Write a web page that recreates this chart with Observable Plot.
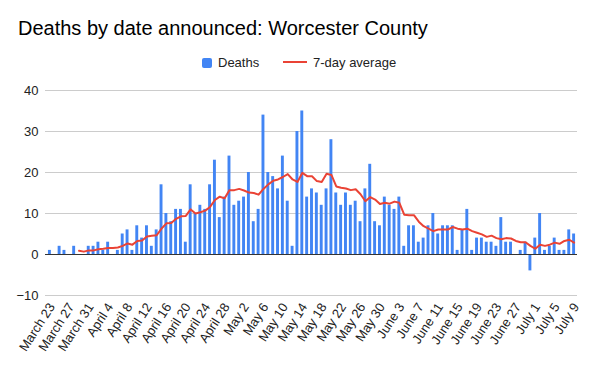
<!DOCTYPE html>
<html>
<head>
<meta charset="utf-8">
<script src="https://cdn.jsdelivr.net/npm/d3@7"></script>
<script src="https://cdn.jsdelivr.net/npm/@observablehq/plot@0.6"></script>
<style>
  html, body { margin: 0; padding: 0; background: #fff; }
  #wrap { position: relative; width: 596px; height: 368px; font-family: "Liberation Sans", Arial, sans-serif; }
  #title { position: absolute; left: 18px; top: 17px; font-size: 20px; color: #000; white-space: nowrap; }
  #legend { position: absolute; left: 0; top: 55px; width: 596px; font-size: 13px; color: #222; }
  .li { position: absolute; top: 0; white-space: nowrap; line-height: 16px; }
  #chart { position: absolute; left: 0; top: 0; }
</style>
</head>
<body>
<div id="wrap">
  <div id="chart"></div>
  <div id="title">Deaths by date announced: Worcester County</div>
  <div id="legend">
    <div class="li" style="left:202px;"><span style="display:inline-block;width:10px;height:10px;background:#4285F4;border-radius:2px;vertical-align:-1px;margin-right:6px;"></span>Deaths</div>
    <div class="li" style="left:283px;"><span style="display:inline-block;width:24px;height:2px;background:#EA4335;vertical-align:4px;margin-right:6px;"></span>7-day average</div>
  </div>
</div>
<script>
const firstDay = "2020-03-23";
const deaths = [1,0,2,1,0,2,0,0,2,2, 3,1,3,0,1,5,6,1,7,4, 7,2,6,17,10,8,11,11,3,17,
  10,12,11,17,23,9,14,24,12,13, 14,20,8,11,34,20,19,16,24,13, 2,30,35,14,16,15,12,16,28,15,
  12,15,12,13,8,16,22,8,7,14, 12,11,14,2,7,7,3,4,7,10, 5,7,7,7,1,6,11,1,4,4,
  3,3,2,9,3,3,0,1,3,-4, 4,10,1,2,4,1,1,6,5];
const avg7 = [null,null,null,null,null,null,0.9,0.7,1.0,1.0,
  1.3,1.4,1.6,1.6,1.7,2.1,2.7,2.4,3.3,3.4,
  4.4,4.6,4.7,6.3,7.6,7.7,8.7,9.3,9.4,11.0,
  10.0,10.3,10.7,11.6,13.3,14.1,13.7,15.7,15.7,16.0,
  15.6,15.1,15.0,14.6,16.0,17.1,18.0,18.3,18.9,19.6,
  18.3,17.7,19.9,19.1,19.1,17.9,17.7,19.7,19.4,16.6,
  16.3,16.1,15.7,15.9,14.7,13.0,14.0,13.4,12.3,12.6,
  12.4,12.9,12.6,9.7,9.6,9.6,8.0,6.9,6.3,5.7,
  6.1,6.1,6.1,6.7,6.3,6.1,6.3,5.7,5.3,4.9,
  4.3,4.6,4.0,3.7,4.0,3.9,3.3,3.0,3.0,2.1,
  1.4,2.4,2.1,2.4,2.9,2.6,3.3,3.6,2.9];
const tickLabels = ["March 23","March 27","March 31","April 4","April 8","April 12","April 16",
  "April 20","April 24","April 28","May 2","May 6","May 10","May 14","May 18","May 22",
  "May 26","May 30","June 3","June 7","June 11","June 15","June 19","June 23","June 27",
  "July 1","July 5","July 9"];
const yTicks = [-10, 0, 10, 20, 30, 40];

const fmt = d3.utcFormat("%B %-d");
const start = new Date(firstDay + "T00:00:00Z");
const days = deaths.map((_, i) => fmt(d3.utcDay.offset(start, i)));
const table = days.map((day, i) => ({day, deaths: deaths[i], avg: avg7[i]}));

const chart = Plot.plot({
  width: 596,
  height: 368,
  marginTop: 90,
  marginBottom: 73,
  marginLeft: 45,
  marginRight: 19,
  style: {fontFamily: "'Liberation Sans', Arial, sans-serif", fontSize: "13px", color: "#222", background: "transparent"},
  x: {type: "band", domain: days, range: [46, 577], padding: 0.4, label: null},
  y: {domain: [-10, 40], label: null},
  marks: [
    Plot.ruleY(yTicks.filter(d => d !== 0), {stroke: "#cccccc", strokeWidth: 1}),
    Plot.barY(table, {x: "day", y: "deaths", fill: "#4285F4"}),
    Plot.ruleY([0], {stroke: "#333333", strokeWidth: 1}),
    Plot.line(table, {x: "day", y: "avg", stroke: "#EA4335", strokeWidth: 2, curve: "linear"}),
    Plot.axisY({ticks: yTicks, tickSize: 0, tickPadding: 7, label: null, fill: "#222"}),
    Plot.axisX({ticks: tickLabels, tickSize: 0, tickPadding: 9, dx: 2, tickRotate: -57, label: null, fill: "#222"})
  ]
});
document.getElementById("chart").appendChild(chart);
</script>
</body>
</html>
